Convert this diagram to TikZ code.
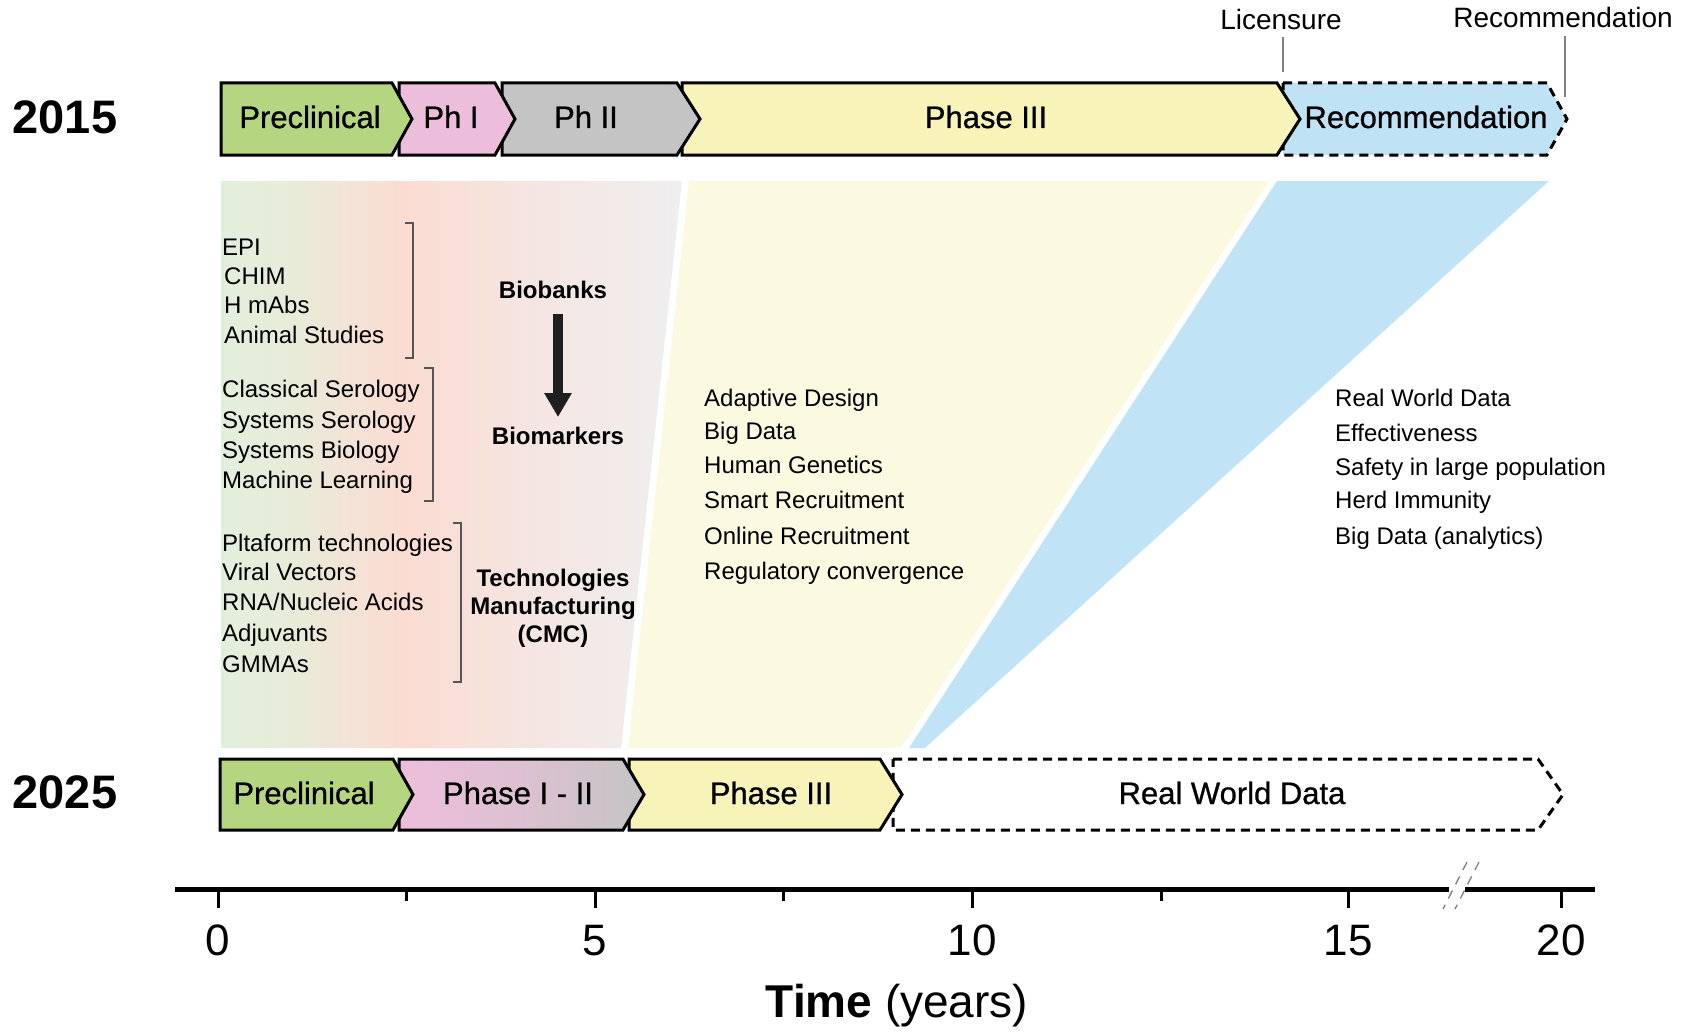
\documentclass[tikz,border=0pt]{standalone}
\usepackage{fontspec}
\setmainfont{Liberation Sans}
\newfontfamily\medfont[FakeBold=0.8]{Liberation Sans}
\usetikzlibrary{arrows.meta}
\definecolor{cgreen}{HTML}{B6D580}
\definecolor{cpink}{HTML}{EDBEDB}
\definecolor{cgrey}{HTML}{C4C4C4}
\definecolor{cyellow}{HTML}{F8F3B8}
\definecolor{cblue}{HTML}{BFE3F5}
\definecolor{bgyellow}{HTML}{FCF9E1}
\definecolor{bgblue}{HTML}{C0E4F6}
\definecolor{lgA}{HTML}{E2EFDC}
\definecolor{lgB}{HTML}{E6EDDA}
\definecolor{lgC}{HTML}{F3E3D6}
\definecolor{lgD}{HTML}{FADCD2}
\definecolor{lgE}{HTML}{F6E4E0}
\definecolor{lgF}{HTML}{EFEFEF}
\definecolor{brk}{HTML}{555555}
\pgfdeclarehorizontalshading{leftgrad}{100bp}{color(0bp)=(lgA); color(25bp)=(lgA); color(31bp)=(lgB); color(39bp)=(lgC); color(45bp)=(lgD); color(57bp)=(lgE); color(75bp)=(lgF); color(100bp)=(lgF)}
\tikzset{
  barbox/.style={draw=black, line width=3pt, line join=miter},
  dashbox/.style={draw=black, line width=3pt, dash pattern=on 9pt off 6pt, line join=miter},
  bartext/.style={font=\medfont\fontsize{31}{36}\selectfont, inner sep=0pt, text height=28pt, text depth=6pt},
  yeartext/.style={font=\bfseries\fontsize{47}{52}\selectfont, inner sep=0pt, text height=39pt, text depth=6pt},
  toplabel/.style={font=\fontsize{28}{32}\selectfont, inner sep=0pt, text height=25pt, text depth=5pt},
  item/.style={font=\fontsize{24}{29}\selectfont, inner sep=0pt, anchor=west, text height=22pt, text depth=5pt},
  boldlabel/.style={font=\bfseries\fontsize{24}{29}\selectfont, inner sep=0pt, text height=22pt, text depth=5pt},
  bracketline/.style={draw=brk, line width=1.3pt},
  ticklabel/.style={font=\fontsize{44}{50}\selectfont, inner sep=0pt, text height=32pt, text depth=0pt},
  tickmajor/.style={line width=3pt},
  leader/.style={draw=gray, line width=1.3pt}
}
\begin{document}
\begin{tikzpicture}[x=1pt,y=-1pt]
\useasboundingbox (0,0) rectangle (1690,1033);

% ---------- background trapezoids ----------
\shade[shading=leftgrad] (221,181) -- (682,181) -- (621,748) -- (221,748) -- cycle;
\fill[bgyellow] (689,181) -- (1269,181) -- (901,748) -- (628,748) -- cycle;
\fill[bgblue] (1277,181) -- (1549,181) -- (925,748) -- (909,748) -- cycle;

% ---------- 2015 bar ----------
\path[dashbox, fill=cblue] (1283,83) -- (1547,83) -- (1567,119) -- (1547,155) -- (1283,155) -- cycle;
\path[barbox, fill=cyellow] (682,83) -- (1277,83) -- (1300,119) -- (1277,155) -- (682,155) -- cycle;
\path[barbox, fill=cgrey] (502,83) -- (677,83) -- (700,119) -- (677,155) -- (502,155) -- cycle;
\path[barbox, fill=cpink] (399,83) -- (495,83) -- (515,119) -- (495,155) -- (399,155) -- cycle;
\path[barbox, fill=cgreen] (221,83) -- (392,83) -- (412,119) -- (392,155) -- (221,155) -- cycle;

\node[bartext] (t15pre) at (310,117) {Preclinical};
\node[bartext] (t15ph1) at (451,117) {Ph I};
\node[bartext] (t15ph2) at (586,117) {Ph II};
\node[bartext] (t15ph3) at (986,117) {Phase III};
\node[bartext] (t15rec) at (1426,117) {Recommendation};

\node[yeartext] (y2015) at (65,117) {2015};

% top labels and leader lines
\node[toplabel] (lic) at (1281,20) {Licensure};
\node[toplabel] (recl) at (1563,18) {Recommendation};
\coordinate (licA) at (1283,37);
\coordinate (licB) at (1283,72);
\coordinate (recA) at (1565,36);
\coordinate (recB) at (1565,97);
\draw[leader] (licA) -- (licB);
\draw[leader] (recA) -- (recB);

% ---------- left column items ----------
\node[item] (i1) at (222,247) {EPI};
\node[item] (i2) at (224,276) {CHIM};
\node[item] (i3) at (224,305) {H mAbs};
\node[item] (i4) at (224,335) {Animal Studies};

\node[item] (i5) at (222,389) {Classical Serology};
\node[item] (i6) at (222,420) {Systems Serology};
\node[item] (i7) at (222,450) {Systems Biology};
\node[item] (i8) at (222,480) {Machine Learning};

\node[item] (i9) at (222,543) {Pltaform technologies};
\node[item] (i10) at (222,572) {Viral Vectors};
\node[item] (i11) at (222,602) {RNA/Nucleic Acids};
\node[item] (i12) at (222,633) {Adjuvants};
\node[item] (i13) at (222,664) {GMMAs};

% brackets
\draw[bracketline] (405,223) -- (413,223) -- (413,358) -- (405,358);
\draw[bracketline] (424,368) -- (433,368) -- (433,501) -- (424,501);
\draw[bracketline] (453,523) -- (461,523) -- (461,682) -- (453,682);

% bold labels
\node[boldlabel] (biobanks) at (553,290) {Biobanks};
\node[boldlabel] (biomarkers) at (558,436) {Biomarkers};
\draw[line width=10pt, color=black!88, -{Triangle[width=26pt,length=24pt]}] (558,314) -- (558,417);
\node[boldlabel, align=center, font=\bfseries\fontsize{24}{28}\selectfont] (tech) at (553,634) {Technologies\\Manufacturing\\(CMC)};

% middle items
\node[item] (m1) at (704,398) {Adaptive Design};
\node[item] (m2) at (704,431) {Big Data};
\node[item] (m3) at (704,465) {Human Genetics};
\node[item] (m4) at (704,500) {Smart Recruitment};
\node[item] (m5) at (704,536) {Online Recruitment};
\node[item] (m6) at (704,571) {Regulatory convergence};

% right items
\node[item] (r1) at (1335,398) {Real World Data};
\node[item] (r2) at (1335,433) {Effectiveness};
\node[item] (r3) at (1335,467) {Safety in large population};
\node[item] (r4) at (1335,500) {Herd Immunity};
\node[item] (r5) at (1335,536) {Big Data (analytics)};

% ---------- 2025 bar ----------
\path[dashbox, fill=white] (893,759) -- (1538,759) -- (1563,794.5) -- (1538,830) -- (893,830) -- cycle;
\path[barbox, fill=cyellow] (629,759) -- (880,759) -- (902,794.5) -- (880,830) -- (629,830) -- cycle;
\shadedraw[barbox, left color=cpink, right color=cgrey, middle color=cpink!60!cgrey] (399,759) -- (623,759) -- (644,794.5) -- (623,830) -- (399,830) -- cycle;
\path[barbox, fill=cgreen] (220,759) -- (393,759) -- (413,794.5) -- (393,830) -- (220,830) -- cycle;

\node[bartext] (t25pre) at (304,793) {Preclinical};
\node[bartext] (t25ph12) at (518,793) {Phase I - II};
\node[bartext] (t25ph3) at (771,793) {Phase III};
\node[bartext] (t25rwd) at (1232,793) {Real World Data};

\node[yeartext] (y2025) at (65,792) {2025};

% ---------- time axis ----------
\coordinate (axL) at (175,889);
\coordinate (axB1) at (1449,889);
\coordinate (axB2) at (1465,889);
\coordinate (axR) at (1595,889);
\draw[line width=5pt] (axL) -- (axB1);
\draw[line width=5pt] (axB2) -- (axR);
\foreach \xx in {218,595,972,1348,1561} \draw[tickmajor] (\xx,889) -- (\xx,908);
\foreach \xx in {406,783,1161} \draw[tickmajor] (\xx,889) -- (\xx,901);
\draw[gray, line width=1.3pt, dash pattern=on 9pt off 7pt] (1467,862) -- (1443,909);
\draw[gray, line width=1.3pt, dash pattern=on 9pt off 7pt] (1479,862) -- (1455,909);

\node[ticklabel] (l0) at (218,939) {0};
\node[ticklabel] (l5) at (595,939) {5};
\node[ticklabel] (l10) at (972,939) {10};
\node[ticklabel] (l15) at (1348,939) {15};
\node[ticklabel] (l20) at (1561,939) {20};

\node[font=\fontsize{46}{52}\selectfont, inner sep=0pt, text height=34pt, text depth=10pt] (xlabel) at (897,1005) {\textbf{Time} (years)};
\end{tikzpicture}
\end{document}
